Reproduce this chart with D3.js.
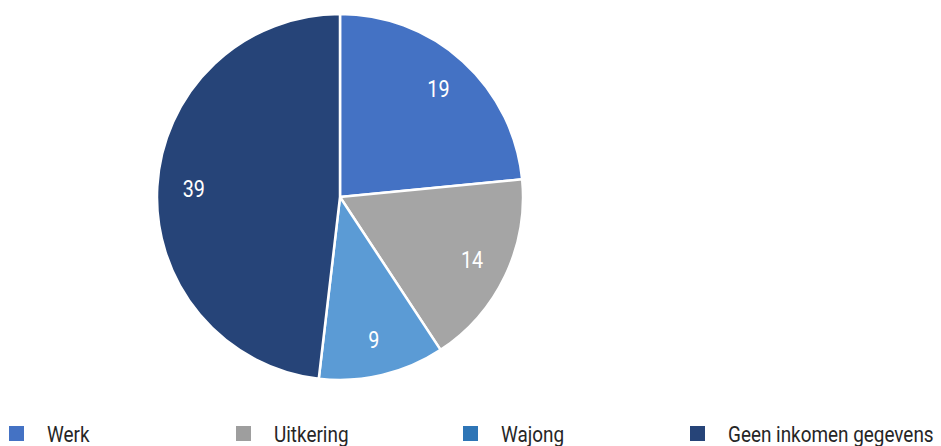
<!DOCTYPE html>
<html>
<head>
<meta charset="utf-8">
<title>Pie</title>
<style>
  body { margin: 0; padding: 0; background: #fff; }
  text { font-family: "Roboto", "Liberation Sans", sans-serif; }
</style>
</head>
<body>
<div id="chart"></div>
<script src="https://d3js.org/d3.v7.min.js"></script>
<script>
// data
var categories = ["Werk", "Uitkering", "Wajong", "Geen inkomen gegevens"];
var values = [19, 14, 9, 39];
var sliceColors = ["#4472C4", "#A5A5A5", "#5B9BD5", "#264478"];
var legendColors = ["#4472C4", "#9E9E9E", "#2E75B6", "#264478"];

var width = 941, height = 446;
var cx = 340, cy = 197, radius = 183;
var narrow = 0.86; // condensed look

var svg = d3.select("#chart").append("svg")
    .attr("width", width)
    .attr("height", height);

var pie = d3.pie().sort(null).value(function(d) { return d; });
var arc = d3.arc().innerRadius(0).outerRadius(radius);
var labelArc = d3.arc().innerRadius(radius * 0.8).outerRadius(radius * 0.8);

var g = svg.append("g").attr("transform", "translate(" + cx + "," + cy + ")");

var slices = g.selectAll("g.slice")
    .data(pie(values))
    .enter().append("g").attr("class", "slice");

slices.append("path")
    .attr("d", arc)
    .attr("fill", function(d, i) { return sliceColors[i]; })
    .attr("stroke", "#fff")
    .attr("stroke-width", 2.5);

slices.append("text")
    .attr("transform", function(d) {
      return "translate(" + labelArc.centroid(d) + ") scale(" + narrow + ",1)";
    })
    .attr("text-anchor", "middle")
    .attr("dy", "0.36em")
    .attr("fill", "#fff")
    .style("font-size", "23px")
    .text(function(d) { return d.data; });

// legend
var legendX = d3.scalePoint().domain(categories).range([9, 690]);

var legend = svg.selectAll("g.legend")
    .data(categories)
    .enter().append("g")
    .attr("class", "legend")
    .attr("transform", function(d) { return "translate(" + legendX(d) + ",426)"; });

legend.append("rect")
    .attr("width", 15)
    .attr("height", 15)
    .attr("fill", function(d, i) { return legendColors[i]; });

legend.append("text")
    .attr("transform", "translate(38,16) scale(" + narrow + ",1)")
    .attr("fill", "#262626")
    .style("font-size", "22px")
    .text(function(d) { return d; });
</script>
</body>
</html>
